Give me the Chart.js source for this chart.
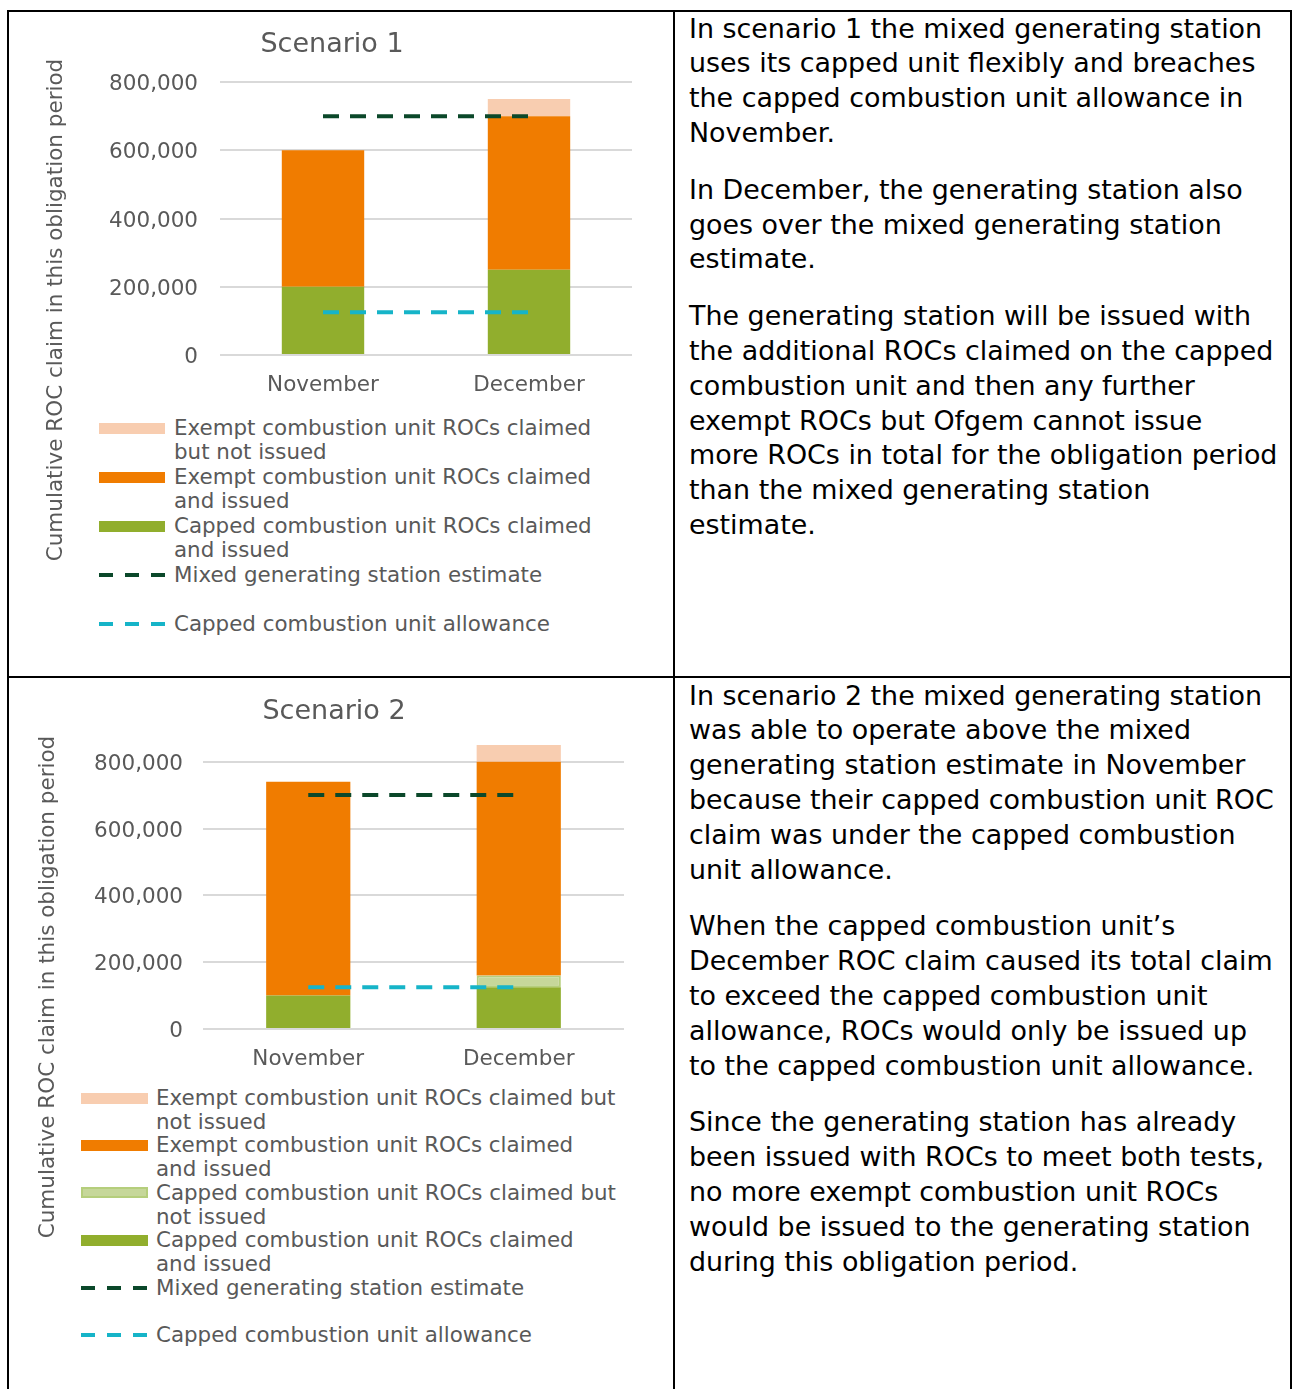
<!DOCTYPE html>
<html>
<head>
<meta charset="utf-8">
<title>Scenarios</title>
<script src="https://cdn.jsdelivr.net/npm/chart.js@4.4.1/dist/chart.umd.min.js"></script>
<style>
  body { margin: 0; width: 1293px; height: 1389px; background: #fff; position: relative; overflow: hidden; font-family: 'DejaVu Sans', Verdana, sans-serif; }
  .rule { position: absolute; background: #000; }
  .note { position: absolute; left: 689px; font-size: 26.9px; line-height: 34.8px; color: #000; white-space: nowrap; }
  .note p { margin: 0 0 22px 0; }
  canvas { position: absolute; left: 8px; }
  .ytitle { position: absolute; width: 540px; height: 26px; line-height: 26px; text-align: center; font-size: 21.5px; color: #595959; transform: rotate(-90deg); white-space: nowrap; }
  .legend { position: absolute; font-size: 21.4px; color: #595959; }
  .legend .item { position: relative; }
  .legend .swatch { position: absolute; left: 0; box-sizing: border-box; }
  .legend .text { position: absolute; white-space: pre; }
</style>
</head>
<body>

<!-- table lines -->
<div class="rule" style="left:7px;top:10px;width:1285px;height:2px"></div>
<div class="rule" style="left:7px;top:676px;width:1285px;height:2px"></div>
<div class="rule" style="left:7px;top:10px;width:2px;height:1400px"></div>
<div class="rule" style="left:673px;top:10px;width:2px;height:1400px"></div>
<div class="rule" style="left:1290px;top:10px;width:2px;height:1400px"></div>

<!-- scenario 1 -->
<canvas id="chart1" width="664" height="400" style="top:12px"></canvas>
<div class="ytitle" style="left:-215px;top:297px">Cumulative ROC claim in this obligation period</div>
<div class="legend" id="legend1"></div>

<div class="note" style="top:11.6px">
  <p>In scenario 1 the mixed generating station<br>uses its capped unit flexibly and breaches<br>the capped combustion unit allowance in<br>November.</p>
  <p>In December, the generating station also<br>goes over the mixed generating station<br>estimate.</p>
  <p>The generating station will be issued with<br>the additional ROCs claimed on the capped<br>combustion unit and then any further<br>exempt ROCs but Ofgem cannot issue<br>more ROCs in total for the obligation period<br>than the mixed generating station<br>estimate.</p>
</div>

<!-- scenario 2 -->
<canvas id="chart2" width="664" height="400" style="top:678px"></canvas>
<div class="ytitle" style="left:-223px;top:974px">Cumulative ROC claim in this obligation period</div>
<div class="legend" id="legend2"></div>

<div class="note" style="top:678.6px">
  <p>In scenario 2 the mixed generating station<br>was able to operate above the mixed<br>generating station estimate in November<br>because their capped combustion unit ROC<br>claim was under the capped combustion<br>unit allowance.</p>
  <p>When the capped combustion unit’s<br>December ROC claim caused its total claim<br>to exceed the capped combustion unit<br>allowance, ROCs would only be issued up<br>to the capped combustion unit allowance.</p>
  <p>Since the generating station has already<br>been issued with ROCs to meet both tests,<br>no more exempt combustion unit ROCs<br>would be issued to the generating station<br>during this obligation period.</p>
</div>

<script>
// data
var months = ['November', 'December'];
var yTickValues = [0, 200000, 400000, 600000, 800000];

// scenario 1
var s1CappedIssued = [200000, 250000];
var s1ExemptIssued = [400000, 450000];
var s1ExemptNotIssued = [0, 50000];
var s1Estimate = [700000, 700000];
var s1Allowance = [125000, 125000];
var s1YMax = 800000;

// scenario 2
var s2CappedIssued = [100000, 125000];
var s2CappedNotIssued = [0, 35000];
var s2ExemptIssued = [640000, 640000];
var s2ExemptNotIssued = [0, 50000];
var s2Estimate = [700000, 700000];
var s2Allowance = [125000, 125000];
var s2YMax = 850000;

var s1Labels = [
    'Exempt combustion unit ROCs claimed\nbut not issued',
    'Exempt combustion unit ROCs claimed\nand issued',
    'Capped combustion unit ROCs claimed\nand issued',
    'Mixed generating station estimate',
    'Capped combustion unit allowance'
];
var s2Labels = [
    'Exempt combustion unit ROCs claimed but\nnot issued',
    'Exempt combustion unit ROCs claimed\nand issued',
    'Capped combustion unit ROCs claimed but\nnot issued',
    'Capped combustion unit ROCs claimed\nand issued',
    'Mixed generating station estimate',
    'Capped combustion unit allowance'
];

var ORANGE = '#F07C00';
var PEACH = '#F8CDB0';
var GREEN = '#91AE2D';
var PALE_GREEN = '#C6D79A';
var DARK = '#0B482A';
var CYAN = '#16B4C8';

Chart.defaults.font.family = "'DejaVu Sans', Verdana, sans-serif";
Chart.defaults.color = '#595959';

function barSet(label, data, color, border) {
    return {
        type: 'bar',
        label: label,
        data: data,
        backgroundColor: color,
        borderColor: border || color,
        borderWidth: border ? 2 : 0,
        borderSkipped: false,
        barPercentage: 0.4,
        categoryPercentage: 1,
        order: 1
    };
}

function lineSet(label, data, color, stackName) {
    return {
        type: 'line',
        label: label,
        data: data,
        borderColor: color,
        backgroundColor: color,
        borderWidth: 4,
        borderDash: [16, 11],
        pointRadius: 0,
        fill: false,
        stack: stackName,
        order: 0
    };
}

function makeChart(id, title, datasets, yMax, geo) {
    return new Chart(document.getElementById(id), {
        type: 'bar',
        data: { labels: months, datasets: datasets },
        options: {
            responsive: false,
            animation: false,
            events: [],
            layout: { padding: { left: 0, right: geo.padRight, top: 0, bottom: 0 } },
            plugins: {
                legend: { display: false },
                tooltip: { enabled: false },
                title: {
                    display: true,
                    text: title,
                    color: '#595959',
                    font: { size: 27, weight: 'normal' },
                    padding: { top: geo.titleTop, bottom: geo.titleBottom }
                }
            },
            scales: {
                x: {
                    stacked: true,
                    grid: { display: false, drawTicks: false },
                    border: { display: false },
                    ticks: { font: { size: 21.5 }, padding: 17.6, color: '#595959' },
                    afterFit: function (scale) { scale.height = geo.xHeight; }
                },
                y: {
                    stacked: true,
                    min: 0,
                    max: yMax,
                    grid: { color: '#D9D9D9', lineWidth: 2, drawTicks: false },
                    border: { display: false },
                    ticks: {
                        font: { size: 21.5 },
                        padding: geo.tickPad,
                        labelOffset: 2.5,
                        color: '#595959',
                        callback: function (v) { return Number(v).toLocaleString('en-US'); }
                    },
                    afterBuildTicks: function (scale) {
                        scale.ticks = yTickValues.map(function (v) { return { value: v }; });
                    },
                    afterFit: function (scale) { scale.width = geo.yWidth; }
                },
                // empty right-hand spacer so the title sits where it does in the original
                spacer: {
                    type: 'linear',
                    position: 'right',
                    grid: { display: false, drawTicks: false },
                    border: { display: false },
                    ticks: { display: false },
                    afterFit: function (scale) { scale.width = geo.spacer; }
                }
            }
        }
    });
}

function buildLegend(elId, chart, geo) {
    var el = document.getElementById(elId);
    el.style.left = geo.x + 'px';
    el.style.top = geo.y + 'px';
    var sets = chart.data.datasets;
    var bars = sets.filter(function (d) { return d.type === 'bar'; }).reverse();
    var lines = sets.filter(function (d) { return d.type === 'line'; });
    bars.concat(lines).forEach(function (d) {
        var item = document.createElement('div');
        item.className = 'item';
        item.style.height = geo.step + 'px';

        var sw = document.createElement('div');
        sw.className = 'swatch';
        sw.style.width = geo.swatchW + 'px';
        if (d.type === 'line') {
            sw.style.height = '4px';
            sw.style.top = (geo.lh / 2 - 2) + 'px';
            sw.style.background = 'repeating-linear-gradient(to right, ' + d.borderColor + ' 0 14px, transparent 14px 26px)';
        } else {
            sw.style.height = '11px';
            sw.style.top = (geo.lh / 2 - 5.5) + 'px';
            sw.style.background = d.backgroundColor;
            if (d.borderWidth) sw.style.border = '2px solid ' + d.borderColor;
        }

        var tx = document.createElement('div');
        tx.className = 'text';
        tx.style.left = geo.textOffset + 'px';
        tx.style.top = '0px';
        tx.style.lineHeight = geo.lh + 'px';
        tx.textContent = d.label;

        item.appendChild(sw);
        item.appendChild(tx);
        el.appendChild(item);
    });
}

var chart1 = makeChart('chart1', 'Scenario 1', [
    barSet(s1Labels[2], s1CappedIssued, GREEN),
    barSet(s1Labels[1], s1ExemptIssued, ORANGE),
    barSet(s1Labels[0], s1ExemptNotIssued, PEACH),
    lineSet(s1Labels[3], s1Estimate, DARK, 'estimate'),
    lineSet(s1Labels[4], s1Allowance, CYAN, 'allowance')
], s1YMax, { padRight: 16, spacer: 24, titleTop: 16.3, titleBottom: 21.3, xHeight: 57, yWidth: 212, tickPad: 22 });

var chart2 = makeChart('chart2', 'Scenario 2', [
    barSet(s2Labels[3], s2CappedIssued, GREEN),
    barSet(s2Labels[2], s2CappedNotIssued, PALE_GREEN, '#B5CE7C'),
    barSet(s2Labels[1], s2ExemptIssued, ORANGE),
    barSet(s2Labels[0], s2ExemptNotIssued, PEACH),
    lineSet(s2Labels[4], s2Estimate, DARK, 'estimate'),
    lineSet(s2Labels[5], s2Allowance, CYAN, 'allowance')
], s2YMax, { padRight: 12, spacer: 36, titleTop: 17.8, titleBottom: 16.8, xHeight: 49, yWidth: 195, tickPad: 20 });

buildLegend('legend1', chart1, { x: 99, y: 415.75, step: 49, lh: 24.5, swatchW: 66, textOffset: 75 });
buildLegend('legend2', chart2, { x: 81, y: 1086, step: 47.4, lh: 24, swatchW: 67, textOffset: 75 });
</script>
</body>
</html>
